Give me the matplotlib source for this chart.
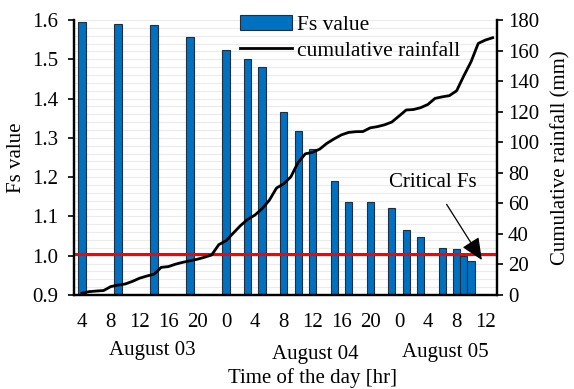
import numpy as np
import matplotlib
matplotlib.use("Agg")
import matplotlib.pyplot as plt
from matplotlib.ticker import MultipleLocator

plt.rcParams["font.family"] = ["Liberation Serif", "DejaVu Serif"]
plt.rcParams["font.size"] = 15

# -- data --#
# hours counted from August 03 00:00
fs_hours = [4, 9, 14, 19, 24, 27, 29, 32, 34, 36, 39, 41, 44, 47, 49, 51, 54, 56, 57, 58]
fs_values = [1.596, 1.589, 1.587, 1.556, 1.524, 1.502, 1.481, 1.367, 1.317, 1.272,
             1.191, 1.138, 1.136, 1.122, 1.065, 1.047, 1.019, 1.016, 0.999, 0.986]

rain_hours = list(range(4, 62))
rain_cum = [1.2, 2.2, 2.6, 2.9, 5.5, 6.5, 7.2, 8.9, 11.0, 12.4,
            13.6, 18.1, 18.6, 20.2, 21.4, 22.4, 23.4, 24.7, 26.2, 33.0,
            35.5, 40.5, 45.4, 49.5, 52.3, 56.5, 62.0, 70.0, 72.8, 77.4,
            86.8, 92.4, 93.4, 95.5, 99.3, 102.2, 104.8, 106.4, 106.9, 107.0,
            109.4, 110.2, 111.4, 113.2, 117.1, 121.1, 121.4, 122.6, 124.7, 128.7,
            129.7, 130.5, 133.7, 143.5, 152.7, 164.7, 166.9, 168.4]

tick_hours = list(range(4, 61, 4))
tick_labels = ["4", "8", "12", "16", "20", "0", "4", "8", "12", "16", "20", "0", "4", "8", "12"]
fs_ticks = [0.9, 1.0, 1.1, 1.2, 1.3, 1.4, 1.5, 1.6]
rain_ticks = [0, 20, 40, 60, 80, 100, 120, 140, 160, 180]
critical_fs = 1.005

# -- figure --#
W, H = 574, 389
L, R, T, B = 74, 497, 20, 295
fig = plt.figure(figsize=(W / 100, H / 100), dpi=100)
ax = fig.add_axes([L / W, 1 - B / H, (R - L) / W, (B - T) / H])
ax2 = ax.twinx()

bars = ax.bar(fs_hours, fs_values, width=1.0, color="#0070C0",
              edgecolor="#1f2f3f", linewidth=0.8, zorder=2, label="Fs value")
ax.axhline(critical_fs, color="#ff0000", linewidth=2.2, zorder=3)

line, = ax2.plot(rain_hours, rain_cum, color="black", linewidth=2.0,
                 label="cumulative rainfall")

ax.set_xlim(2.9, 61.6)
ax.set_ylim(0.9, 1.6)
ax2.set_ylim(0, 180)

ax.yaxis.set_minor_locator(MultipleLocator(0.02))
ax.set_yticks(fs_ticks)
ax.set_yticklabels([f"{v:.1f}" for v in fs_ticks])
ax2.set_yticks(rain_ticks)

ax.grid(axis="y", which="both", color="#ebebeb", linewidth=0.8, zorder=0)
ax.set_axisbelow(True)

ax.set_xticks(tick_hours)
ax.set_xticklabels(tick_labels)
ax.tick_params(axis="x", length=0, pad=13)
ax.tick_params(axis="y", which="major", length=4.5, width=1.2, direction="out", pad=7)
ax.tick_params(axis="y", which="minor", length=0)
ax2.tick_params(axis="y", length=4.5, width=1.2, direction="out", pad=3.5)

for a in (ax, ax2):
    a.spines["top"].set_visible(False)
    for s in ("left", "right", "bottom"):
        a.spines[s].set_linewidth(1.6)

ax.set_ylabel("Fs value")
ax2.set_ylabel("Cumulative rainfall (mm)")
ax.yaxis.set_label_coords((26 - L) / (R - L), 0.5)
ax2.yaxis.set_label_coords((551 - L) / (R - L), 0.5)

# 日期與x軸標題
fig.text(152 / W, 1 - 351 / H, "August 03", ha="center", va="center")
fig.text(315 / W, 1 - 355 / H, "August 04", ha="center", va="center")
fig.text(445 / W, 1 - 352 / H, "August 05", ha="center", va="center")
fig.text(312 / W, 1 - 378 / H, "Time of the day [hr]", ha="center", va="center")

ax.annotate("Critical Fs", xy=(59.5, 0.989), xytext=(52.7, 1.186),
            ha="center", va="center", zorder=5,
            arrowprops=dict(arrowstyle="-|>,head_length=0.9,head_width=0.4",
                            color="black", linewidth=0.9, shrinkA=8, shrinkB=0))

fig.legend([bars, line], ["Fs value", "cumulative rainfall"],
           loc="upper left", bbox_to_anchor=(240 / W, 1 - 15 / H),
           frameon=False, handlelength=2.4, handletextpad=0.25,
           borderpad=0, borderaxespad=0, labelspacing=0.25, fontsize=15.5)

fig.savefig("out.png", dpi=100)
